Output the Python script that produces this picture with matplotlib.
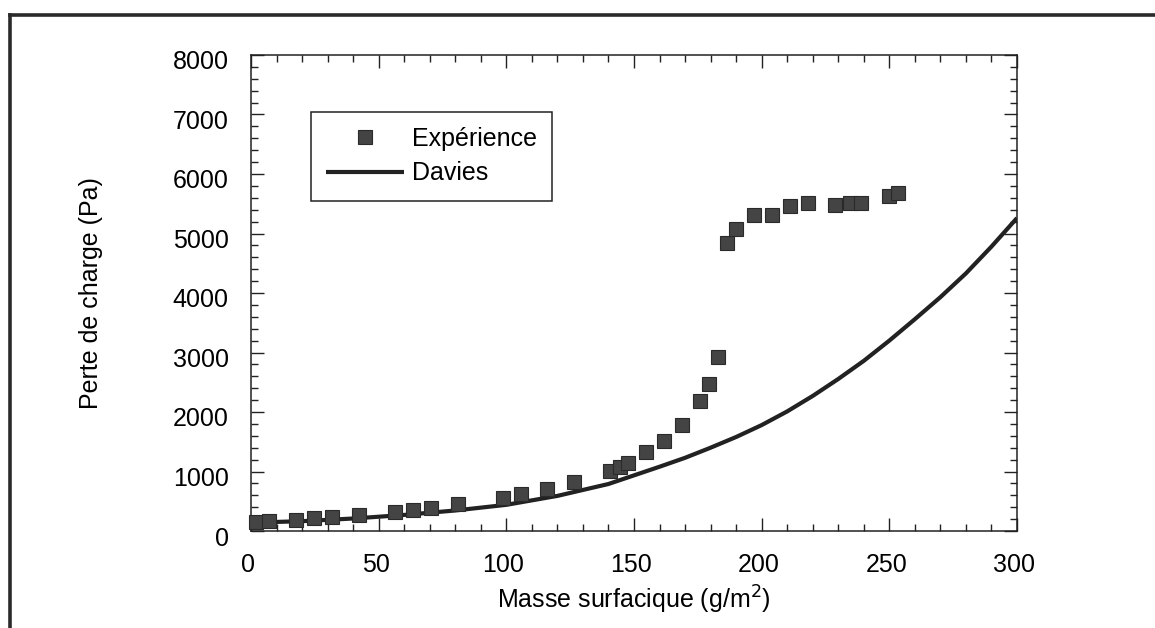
import numpy as np
import matplotlib
matplotlib.use('Agg')
import matplotlib.pyplot as plt
from matplotlib.lines import Line2D
from matplotlib.ticker import MultipleLocator
import matplotlib.transforms as mtransforms

exp_x = [2, 7, 17.6, 24.7, 31.6, 42.3, 56.4, 63.5, 70.4, 81, 98.6, 105.8, 116,
         126.4, 140.6, 144.5, 147.8, 154.7, 161.9, 168.9, 175.9, 179.2, 182.9,
         186.5, 189.9, 197, 204.2, 211.1, 218.3, 228.7, 234.5, 239, 250, 253.5]
exp_y = [150, 160, 185, 213, 241, 269, 314, 353, 381, 454, 560, 616, 706,
         818, 1014, 1070, 1137, 1330, 1518, 1781, 2190, 2465, 2930,
         4840, 5070, 5308, 5317, 5468, 5520, 5479, 5518, 5518, 5630, 5675]

# Davies model curve
dav_x = [0, 20, 40, 60, 80, 100, 120, 140, 160, 170, 180, 190, 200, 210, 220,
         230, 240, 250, 260, 270, 280, 290, 300]
dav_y = [140, 165, 210, 270, 345, 440, 590, 790, 1080, 1230, 1400, 1580, 1780,
         2010, 2270, 2555, 2860, 3200, 3560, 3930, 4330, 4780, 5260]

plt.rcParams['font.family'] = ['Liberation Sans', 'DejaVu Sans']
FS = 18

fig = plt.figure(figsize=(11.55, 6.28), dpi=100)
ax = fig.add_axes([251 / 1155, 1 - 531 / 628, 766 / 1155, 476 / 628])

ax.plot(dav_x, dav_y, color='#222222', linewidth=3.0, solid_capstyle='butt',
        solid_joinstyle='round', label='Davies', zorder=2)
ax.plot(exp_x, exp_y, linestyle='none', marker='s', markersize=9.4,
        markerfacecolor='#444444', markeredgecolor='#2a2a2a', markeredgewidth=0.8,
        label='Expérience', zorder=3, clip_on=False)

ax.set_xlim(0, 300)
ax.set_ylim(0, 8000)
ax.xaxis.set_major_locator(MultipleLocator(50))
ax.xaxis.set_minor_locator(MultipleLocator(10))
ax.yaxis.set_major_locator(MultipleLocator(1000))
ax.yaxis.set_minor_locator(MultipleLocator(200))
ax.tick_params(which='both', direction='in', top=True, right=True,
               width=1.0, color='#222222')
ax.tick_params(which='major', length=9.5, labelsize=FS)
ax.tick_params(axis='x', which='major', pad=16)
ax.tick_params(axis='y', which='major', pad=16)
ax.tick_params(which='minor', length=5)
for s in ax.spines.values():
    s.set_linewidth(1.1)
    s.set_color('#222222')

# the scanned labels sit a little off their ticks
dy = mtransforms.ScaledTranslation(0, -0.05, fig.dpi_scale_trans)
for lab in ax.get_yticklabels():
    lab.set_transform(lab.get_transform() + dy)
dx = mtransforms.ScaledTranslation(-0.03, 0, fig.dpi_scale_trans)
for lab in ax.get_xticklabels():
    lab.set_transform(lab.get_transform() + dx)

ax.set_xlabel('Masse surfacique (g/m$^2$)', fontsize=FS, labelpad=5)
ax.set_ylabel('Perte de charge (Pa)', fontsize=FS, labelpad=50)

handles, labels = ax.get_legend_handles_labels()
leg = ax.legend(handles[::-1], labels[::-1], loc='upper left',
                bbox_to_anchor=(311 / 1155, 1 - 112 / 628),
                bbox_transform=fig.transFigure, fontsize=FS, frameon=True,
                fancybox=False, framealpha=1, edgecolor='#222222',
                handlelength=3.1, handletextpad=0.32, labelspacing=0.42,
                borderpad=0.6, borderaxespad=0, numpoints=1)
leg.get_frame().set_linewidth(1.1)

# scanned page frame (top and left edges)
fig.add_artist(Line2D([10 / 1155, 1], [1 - 15 / 628, 1 - 15 / 628],
                      transform=fig.transFigure, color='#2a2a2a', linewidth=2.6))
fig.add_artist(Line2D([10 / 1155, 10 / 1155], [0, 1 - 15 / 628],
                      transform=fig.transFigure, color='#2a2a2a', linewidth=2.6))

fig.savefig('out.png', dpi=100)
